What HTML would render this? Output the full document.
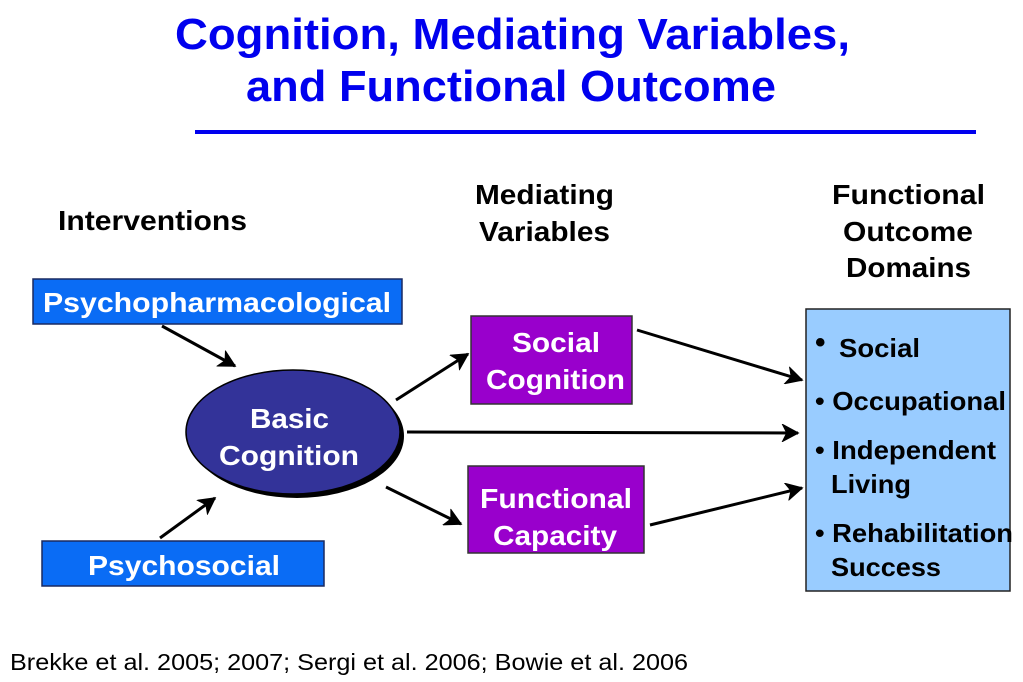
<!DOCTYPE html>
<html><head><meta charset="utf-8"><style>
html,body{margin:0;padding:0;background:#fff;}
svg{display:block;font-family:"Liberation Sans",Arial,sans-serif;font-weight:bold;}
</style></head><body>
<svg width="1023" height="682" viewBox="0 0 1023 682" xmlns="http://www.w3.org/2000/svg">
<defs>
<marker id="b" markerWidth="20" markerHeight="18" refX="17" refY="9" orient="auto" markerUnits="userSpaceOnUse">
<path d="M2,1 L17,9 L2,17 L6,9 Z" fill="#000" stroke="#000" stroke-width="1.5"/>
</marker>
</defs>
<g fill="#0000EE" font-size="44" lengthAdjust="spacingAndGlyphs">
<text x="175" y="49" textLength="675" lengthAdjust="spacingAndGlyphs">Cognition, Mediating Variables,</text>
<text x="246" y="101" textLength="530" lengthAdjust="spacingAndGlyphs">and Functional Outcome</text>
</g>
<rect x="195" y="130" width="781" height="4" fill="#0000EE"/>
<g fill="#000" font-size="28">
<text x="58" y="230" textLength="189" lengthAdjust="spacingAndGlyphs">Interventions</text>
<text x="475" y="204" textLength="139" lengthAdjust="spacingAndGlyphs">Mediating</text>
<text x="479" y="241" textLength="131" lengthAdjust="spacingAndGlyphs">Variables</text>
<text x="832" y="204" textLength="153" lengthAdjust="spacingAndGlyphs">Functional</text>
<text x="843" y="241" textLength="130" lengthAdjust="spacingAndGlyphs">Outcome</text>
<text x="846" y="277" textLength="125" lengthAdjust="spacingAndGlyphs">Domains</text>
</g>
<rect x="33" y="279" width="369" height="45" fill="#0A6CF5" stroke="#1a2a60" stroke-width="1.5"/>
<text x="43" y="312" fill="#fff" font-size="28" textLength="348" lengthAdjust="spacingAndGlyphs">Psychopharmacological</text>
<rect x="42" y="541" width="282" height="45" fill="#0A6CF5" stroke="#1a2a60" stroke-width="1.5"/>
<text x="88" y="575" fill="#fff" font-size="28" textLength="192" lengthAdjust="spacingAndGlyphs">Psychosocial</text>
<ellipse cx="297" cy="436" rx="107" ry="62" fill="#000"/>
<ellipse cx="293" cy="432" rx="107" ry="62" fill="#333399" stroke="#000" stroke-width="1.5"/>
<text x="250" y="428" fill="#fff" font-size="28" textLength="79" lengthAdjust="spacingAndGlyphs">Basic</text>
<text x="219" y="465" fill="#fff" font-size="28" textLength="140" lengthAdjust="spacingAndGlyphs">Cognition</text>
<rect x="471" y="316" width="161" height="88" fill="#9900CC" stroke="#333" stroke-width="1.5"/>
<text x="512" y="352" fill="#fff" font-size="28" textLength="88" lengthAdjust="spacingAndGlyphs">Social</text>
<text x="486" y="389" fill="#fff" font-size="28" textLength="139" lengthAdjust="spacingAndGlyphs">Cognition</text>
<rect x="468" y="466" width="176" height="87" fill="#9900CC" stroke="#333" stroke-width="1.5"/>
<text x="480" y="508" fill="#fff" font-size="28" textLength="152" lengthAdjust="spacingAndGlyphs">Functional</text>
<text x="493" y="545" fill="#fff" font-size="28" textLength="124" lengthAdjust="spacingAndGlyphs">Capacity</text>
<rect x="806" y="309" width="204" height="282" fill="#99CCFF" stroke="#222" stroke-width="1.5"/>
<g fill="#000" font-size="26">
<text x="815" y="352" font-size="30">•</text>
<text x="839" y="357" textLength="81" lengthAdjust="spacingAndGlyphs">Social</text>
<text x="815" y="410" textLength="191" lengthAdjust="spacingAndGlyphs">• Occupational</text>
<text x="815" y="459" textLength="181" lengthAdjust="spacingAndGlyphs">• Independent</text>
<text x="831" y="493" textLength="80" lengthAdjust="spacingAndGlyphs">Living</text>
<text x="815" y="542" textLength="198" lengthAdjust="spacingAndGlyphs">• Rehabilitation</text>
<text x="831" y="576" textLength="110" lengthAdjust="spacingAndGlyphs">Success</text>
</g>
<g stroke="#000" stroke-width="3" fill="none" marker-end="url(#b)">
<line x1="162" y1="326" x2="235" y2="366"/>
<line x1="160" y1="538" x2="215" y2="498"/>
<line x1="396" y1="400" x2="468" y2="354"/>
<line x1="386" y1="487" x2="461" y2="524"/>
<line x1="407" y1="432" x2="798" y2="433"/>
<line x1="637" y1="330" x2="802" y2="380"/>
<line x1="650" y1="525" x2="802" y2="488"/>
</g>
<text x="10" y="670" fill="#000" font-size="23" font-weight="normal" textLength="678" lengthAdjust="spacingAndGlyphs">Brekke et al. 2005; 2007; Sergi et al. 2006; Bowie et al. 2006</text>
</svg>
</body></html>
